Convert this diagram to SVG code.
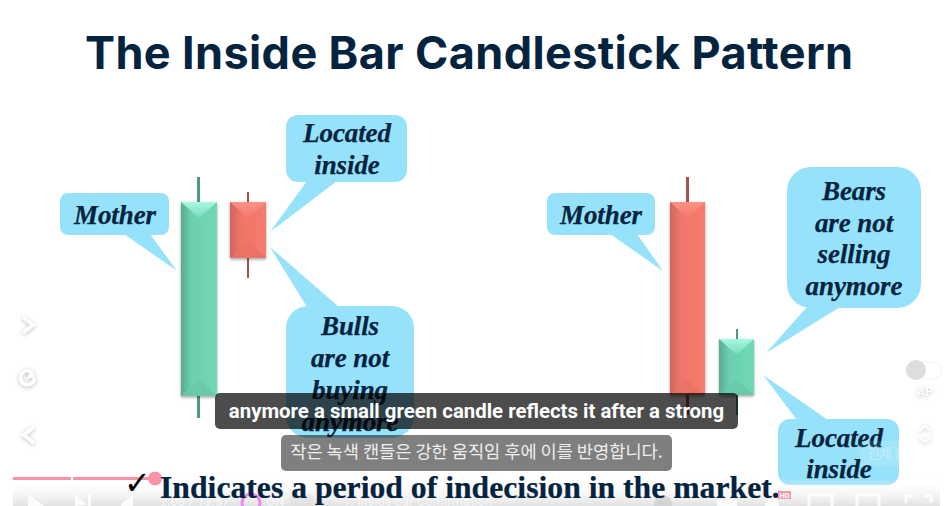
<svg xmlns="http://www.w3.org/2000/svg" width="951" height="506" viewBox="0 0 951 506">
<style>
.callout{fill:#97e2fb}
.lbl{font-family:"Liberation Serif",serif;font-weight:700;font-style:italic;font-size:27px;fill:#04233f;stroke:#04233f;stroke-width:.25;text-anchor:middle;letter-spacing:-.1px}
.wg{fill:#4b9a82}.wr{fill:#a5544d}
.ic{fill:none;stroke:#fff;stroke-width:3.2;filter:url(#sh)}
.ctl{fill:#fff;opacity:.85}
.ctlS{fill:none;stroke:#fff;stroke-width:3;opacity:.85}
.tiny{font-family:"Roboto",sans-serif;font-size:13px;fill:#fff}
</style>
<defs>
<linearGradient id="gb" x1="0" x2="1" y1="0" y2="0"><stop offset="0" stop-color="#58ac93"/><stop offset=".3" stop-color="#6ccfb0"/><stop offset="1" stop-color="#70d8b5"/></linearGradient>
<linearGradient id="rb" x1="0" x2="1" y1="0" y2="0"><stop offset="0" stop-color="#cf675c"/><stop offset=".3" stop-color="#ee7568"/><stop offset="1" stop-color="#f67c6e"/></linearGradient>
<linearGradient id="gt" x1="0" x2="0" y1="0" y2="1"><stop offset="0" stop-color="#a8f8e2"/><stop offset="1" stop-color="#74dab9"/></linearGradient>
<linearGradient id="rt" x1="0" x2="0" y1="0" y2="1"><stop offset="0" stop-color="#fb9285"/><stop offset="1" stop-color="#f47a6c"/></linearGradient>
<linearGradient id="bar" x1="0" x2="0" y1="0" y2="1"><stop offset="0" stop-color="#fff" stop-opacity="0"/><stop offset="1" stop-color="#e2e2e2"/></linearGradient>
<filter id="ds" x="-20%" y="-10%" width="140%" height="120%"><feDropShadow dx="0" dy="1.500" stdDeviation="1.500" flood-color="#000" flood-opacity=".35"/></filter>
<filter id="sh" x="-60%" y="-60%" width="220%" height="220%"><feDropShadow dx="0" dy="1" stdDeviation="2" flood-color="#000" flood-opacity=".3"/></filter>
</defs>
<rect width="951" height="506" fill="#fff"/>
<text id="title" x="85" y="68.500" font-family="Inter,sans-serif" font-weight="700" font-size="45" fill="#04233f" textLength="768">The Inside Bar Candlestick Pattern</text>

<g id="candle-green-large">
<rect class="wg" x="197" y="177" width="3" height="25"/><rect class="wg" x="197" y="396" width="3" height="22"/>
<rect x="181" y="202" width="36" height="194" fill="url(#gb)" filter="url(#ds)"/>
<polygon points="181,202 217,202 199,218" fill="url(#gt)"/>
<polygon points="181,396 217,396 199,380" fill="#69c9aa"/>
</g>
<g id="candle-red-small">
<rect class="wr" x="247" y="192" width="2" height="10"/><rect class="wr" x="247" y="258" width="2" height="20"/>
<rect x="230" y="202" width="36" height="56" fill="url(#rb)" filter="url(#ds)"/>
<polygon points="230,202 266,202 248,218" fill="url(#rt)"/>
<polygon points="230,258 266,258 248,242" fill="#ea7366"/>
</g>
<g id="candle-red-large">
<rect class="wr" x="686" y="177" width="3" height="25"/><rect class="wr" x="686" y="395" width="3" height="20"/>
<rect x="670" y="202" width="35" height="193" fill="url(#rb)" filter="url(#ds)"/>
<polygon points="670,202 705,202 687.500,218" fill="url(#rt)"/>
<polygon points="670,395 705,395 687.500,380" fill="#ea7366"/>
</g>
<g id="candle-green-small">
<rect class="wg" x="736" y="329" width="2" height="10"/><rect class="wg" x="736" y="395" width="2" height="20"/>
<rect x="719" y="339" width="35" height="56" fill="url(#gb)" filter="url(#ds)"/>
<polygon points="719,339 754,339 736.500,355" fill="url(#gt)"/>
<polygon points="719,395 754,395 736.500,380" fill="#69c9aa"/>
</g>

<g id="connectors">
<polygon class="callout" points="124,234 150,234 177,271"/>
<polygon class="callout" points="307,181 337,181 270,232"/>
<polygon class="callout" points="307,307 339,307 270,247"/>
<polygon class="callout" points="610,234 637,234 663,271"/>
<polygon class="callout" points="807,307 840,307 766,353"/>
<polygon class="callout" points="797,420 828,420 763,375"/>
</g>

<g id="callout-mother-left"><rect class="callout" x="60" y="193" width="109" height="42" rx="8"/><text class="lbl" x="115" y="224">Mother</text></g>
<g id="callout-located-top"><rect class="callout" x="286" y="115" width="121" height="67" rx="12"/><text class="lbl" x="347" y="142">Located</text><text class="lbl" x="347" y="174">inside</text></g>
<g id="callout-bulls"><rect class="callout" x="286" y="306" width="128" height="132" rx="22"/><text class="lbl" x="350" y="335">Bulls</text><text class="lbl" x="350" y="367">are not</text><text class="lbl" x="350" y="399">buying</text><text class="lbl" x="350" y="431">anymore</text></g>
<g id="callout-mother-right"><rect class="callout" x="547" y="193" width="108" height="42" rx="8"/><text class="lbl" x="601" y="224">Mother</text></g>
<g id="callout-bears"><rect class="callout" x="787" y="167" width="134" height="141" rx="24"/><text class="lbl" x="854" y="200">Bears</text><text class="lbl" x="854" y="232">are not</text><text class="lbl" x="854" y="263">selling</text><text class="lbl" x="854" y="295">anymore</text></g>
<g id="callout-located-bottom"><rect class="callout" x="778" y="419" width="121" height="66" rx="12"/><text class="lbl" x="839" y="447">Located</text><text class="lbl" x="839" y="478">inside</text></g>

<g id="player-bar">
<rect x="13" y="478" width="927" height="28" fill="url(#bar)"/>
<polygon class="ctl" points="28,494 44,506 28,506"/>
<polygon class="ctl" points="75,494 87,505 75,506"/><rect class="ctl" x="88" y="494" width="3" height="12"/>
<path class="ctl" d="M121 506v-2l12-9v11z"/>
<text class="tiny" x="160" y="506" opacity=".6">2:08 / 13:57</text>
<rect x="290" y="494" width="24" height="12" rx="6" fill="#ddd" opacity=".5"/>
<circle cx="251" cy="503" r="9" fill="none" stroke="#e88cf0" stroke-width="3"/>
<text class="tiny" x="266" y="506" opacity=".6">ON</text>
<text class="tiny" x="343" y="506" opacity=".5">1. Inside bar Confirmation</text>
<circle cx="663" cy="504" r="9" fill="#ccc" opacity=".7"/>
<rect x="717" y="500" width="20" height="6" class="ctl"/>
<circle cx="772" cy="505" r="7" class="ctl"/>
<rect x="809" y="495" width="23" height="14" class="ctlS"/>
<rect x="857" y="495" width="22" height="14" class="ctlS"/>
<path class="ctlS" d="M906 503v-7h7M924 496h7v7"/>
<rect x="13" y="477" width="58" height="3" fill="#fb93a8"/><rect x="73" y="477" width="83" height="3" fill="#fb93a8"/>
<circle cx="155" cy="478.500" r="7" fill="#fb93a8"/>
</g>

<text id="check" x="124" y="494" font-family="'DejaVu Sans',sans-serif" font-size="32" fill="#000">✓</text>
<text id="footer" x="160" y="498" font-family="'Liberation Serif',serif" font-weight="700" font-size="31.700" fill="#04233f" stroke="#04233f" stroke-width=".2">Indicates a period of indecision in the market.</text>
<g id="hd-badge"><rect x="778" y="491" width="13" height="8" fill="#f398ac"/><text x="784.500" y="498" text-anchor="middle" font-family="'Roboto',sans-serif" font-weight="700" font-size="7.500" fill="#fff">HD</text></g>

<g id="caption-en"><rect x="215" y="393" width="523" height="36" rx="5" fill="#000" fill-opacity=".7"/><text x="476.500" y="418" text-anchor="middle" font-family="Roboto,sans-serif" font-weight="700" font-size="20.400" fill="#fff">anymore a small green candle reflects it after a strong</text></g>
<g id="caption-ko"><rect x="281" y="435" width="391" height="36" rx="5" fill="#000" fill-opacity=".5"/><text x="476.500" y="458" text-anchor="middle" font-family="'Noto Sans CJK KR',sans-serif" font-size="17.600" fill="#eee">작은 녹색 캔들은 강한 움직임 후에 이를 반영합니다.</text></g>

<g id="side-controls">
<path class="ic" d="M23 317l10 8-10 8"/>
<path class="ic" d="M34.500 378a7 7 0 1 1-3-6l-1.500 4.500 4.500-1"/>
<path class="ic" d="M34 427l-10 8 10 8"/>
<rect x="906" y="362" width="36" height="17" rx="8.500" fill="#fff" stroke="#f0f0f0"/>
<circle cx="916" cy="370" r="10" fill="#ddd"/>
<text x="925" y="396" text-anchor="middle" font-family="Roboto,sans-serif" font-size="12" fill="#fff" style="filter:url(#sh)">AP</text>
<path class="ic" style="stroke-width:1.500" d="M919 431l6-5 6 5M919 437l6 5 6-5"/>
<rect x="860" y="441" width="80" height="25" rx="4" fill="#fff" opacity=".12"/>
<text x="900" y="458" text-anchor="middle" font-family="'Noto Sans CJK KR',sans-serif" font-size="13" fill="#fff" opacity=".35">전체 화면(f)</text>
</g>
</svg>
